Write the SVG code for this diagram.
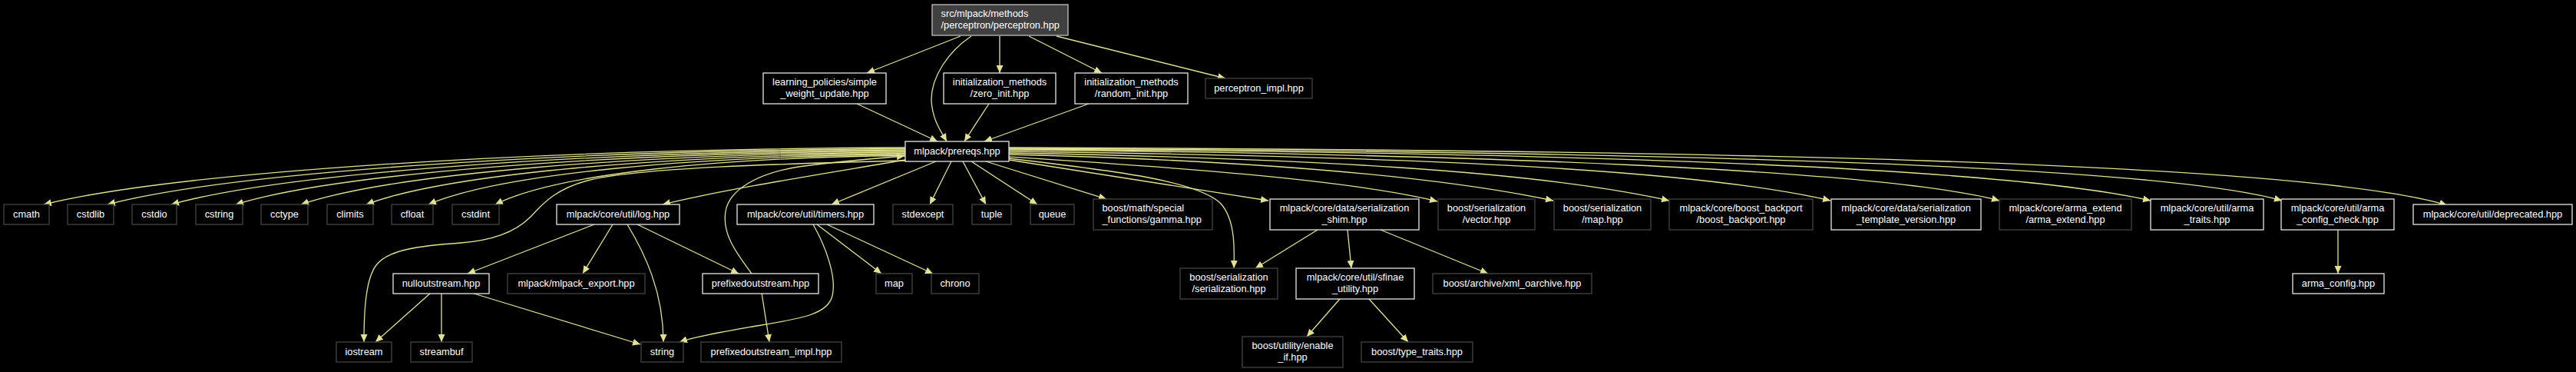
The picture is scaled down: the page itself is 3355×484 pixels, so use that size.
<svg xmlns="http://www.w3.org/2000/svg" width="3355" height="484" viewBox="0 0 3355 484">
<style>
.bg{fill:#000}
.d rect{fill:#000;stroke:#e6e6e6;stroke-width:1.3}
.u rect{fill:#000;stroke:#444;stroke-width:1.3}
.r rect{fill:#404040;stroke:#bfbfbf;stroke-width:1.3}
text{font-family:"Liberation Sans",Arial,sans-serif;font-size:12.8px;fill:#fff}
.m{text-anchor:middle}
#edges path{fill:none;stroke:#e2e28e;stroke-width:1.3;marker-end:url(#ah)}
</style>
<defs>
<marker id="ah" markerWidth="11" markerHeight="9" refX="10" refY="4.5" orient="auto" markerUnits="userSpaceOnUse">
<path d="M0,0 L10,4.5 L0,9 z" fill="#e2e28e"/>
</marker>
</defs>
<rect class="bg" x="0" y="0" width="3355" height="484"/>
<g id="edges">
<path d="M1251,47 L1129,95"/>
<path d="M1265,47 C1235,67 1213,100 1213,130 C1214,155 1225,170 1233,184"/>
<path d="M1302,47 L1302,95"/>
<path d="M1340,47 L1435,95"/>
<path d="M1376,47 L1596,102"/>
<path d="M1116,135 L1221,184"/>
<path d="M1288,135 L1256,184"/>
<path d="M1418,135 L1282,184"/>
<path d="M1179,192 C674,194 225,225 57,266"/>
<path d="M1179,193.5 C715,195.5 297,225 140,266"/>
<path d="M1179,195 C754,197 367,225.5 223,266"/>
<path d="M1179,196.5 C792,198.5 438,225.5 307,266"/>
<path d="M1179,198 C830,200 510,226 392,266"/>
<path d="M1179,199.5 C868,201.5 583,226 477,266"/>
<path d="M1179,201 C904,203 651,226 558,266"/>
<path d="M1179,202.5 C939,204.5 725,226 645,266"/>
<path d="M1179,208 C1080,225 950,245 863,266"/>
<path d="M1179,209 C1020,213 830,218 765,235 C720,247 705,268 690,283 C670,303 640,313 600,316 C545,320 505,325 490,345 C477,362 474,400 474,445"/>
<path d="M1219,210 L1083,266"/>
<path d="M1239,210 L1211,266"/>
<path d="M1254,210 L1284,266"/>
<path d="M1265,210 L1351,266"/>
<path d="M1284,210 L1441,259"/>
<path d="M1314,208 L1652,261"/>
<path d="M1314,206 C1450,222 1560,235 1590,265 C1608,285 1608,320 1607,349"/>
<path d="M1314,204 C1500,216 1750,232 1872,262"/>
<path d="M1314,201 C1600,208 1850,225 2023,261"/>
<path d="M1314,199 C1700,206 2000,222 2174,261"/>
<path d="M1314,197 C1800,203 2200,218 2384,261"/>
<path d="M1314,195 C1900,200 2450,220 2604,261"/>
<path d="M1314,194 C2000,198 2600,215 2801,261"/>
<path d="M1314,193 C2100,197 2800,212 2972,261"/>
<path d="M1314,192 C2200,195 3000,210 3187,267"/>
<path d="M774,292 L609,356"/>
<path d="M798,292 L759,356"/>
<path d="M817,292 C840,330 864,380 864,445"/>
<path d="M830,292 L962,356"/>
<path d="M1064,292 L1148,356"/>
<path d="M1077,292 L1215,356"/>
<path d="M1059,292 C1075,320 1090,360 1084,385 C1078,410 1040,415 980,425 C940,432 905,438 885,445"/>
<path d="M561,381 L489,445"/>
<path d="M575,381 L575,445"/>
<path d="M614,381 L834,448"/>
<path d="M992,381 L1002,445"/>
<path d="M979,356 C960,330 940,305 945,275 C950,245 990,225 1040,217 C1090,210 1140,206 1178,203"/>
<path d="M1716,299 L1635,349"/>
<path d="M1755,299 L1760,349"/>
<path d="M1798,299 L1938,356"/>
<path d="M1745,389 L1702,438"/>
<path d="M1783,389 L1834,445"/>
<path d="M3045,299 L3045,356"/>
</g>
<g id="n0" class="r"><rect x="1214" y="6" width="177" height="40"/><text x="1225.5" y="22">src/mlpack/methods</text><text x="1225.5" y="37">/perceptron/perceptron.hpp</text></g>
<g id="n1" class="d"><rect x="994" y="95" width="160" height="40"/><text class="m" x="1074" y="111">learning_policies/simple</text><text class="m" x="1074" y="126">_weight_update.hpp</text></g>
<g id="n2" class="d"><rect x="1229" y="95" width="146" height="40"/><text class="m" x="1302" y="111">initialization_methods</text><text class="m" x="1302" y="126">/zero_init.hpp</text></g>
<g id="n3" class="d"><rect x="1400" y="95" width="147" height="40"/><text class="m" x="1473.5" y="111">initialization_methods</text><text class="m" x="1473.5" y="126">/random_init.hpp</text></g>
<g id="n4" class="u"><rect x="1570" y="102" width="139" height="26"/><text class="m" x="1639.5" y="119">perceptron_impl.hpp</text></g>
<g id="n5" class="d"><rect x="1179" y="184" width="135" height="26"/><text class="m" x="1246.5" y="201">mlpack/prereqs.hpp</text></g>
<g id="n6" class="u"><rect x="5" y="266" width="59" height="26"/><text class="m" x="34.5" y="283">cmath</text></g>
<g id="n7" class="u"><rect x="88" y="266" width="60" height="26"/><text class="m" x="118" y="283">cstdlib</text></g>
<g id="n8" class="u"><rect x="172" y="266" width="58" height="26"/><text class="m" x="201" y="283">cstdio</text></g>
<g id="n9" class="u"><rect x="255" y="266" width="61" height="26"/><text class="m" x="285.5" y="283">cstring</text></g>
<g id="n10" class="u"><rect x="340" y="266" width="61" height="26"/><text class="m" x="370.5" y="283">cctype</text></g>
<g id="n11" class="u"><rect x="426" y="266" width="60" height="26"/><text class="m" x="456" y="283">climits</text></g>
<g id="n12" class="u"><rect x="510" y="266" width="54" height="26"/><text class="m" x="537" y="283">cfloat</text></g>
<g id="n13" class="u"><rect x="589" y="266" width="61" height="26"/><text class="m" x="619.5" y="283">cstdint</text></g>
<g id="n14" class="d"><rect x="725" y="266" width="160" height="26"/><text class="m" x="805" y="283">mlpack/core/util/log.hpp</text></g>
<g id="n15" class="d"><rect x="960" y="266" width="178" height="26"/><text class="m" x="1049" y="283">mlpack/core/util/timers.hpp</text></g>
<g id="n16" class="u"><rect x="1163" y="266" width="78" height="26"/><text class="m" x="1202" y="283">stdexcept</text></g>
<g id="n17" class="u"><rect x="1266" y="266" width="51" height="26"/><text class="m" x="1291.5" y="283">tuple</text></g>
<g id="n18" class="u"><rect x="1342" y="266" width="57" height="26"/><text class="m" x="1370.5" y="283">queue</text></g>
<g id="n19" class="u"><rect x="1424" y="259" width="155" height="40"/><text x="1435.5" y="275">boost/math/special</text><text x="1435.5" y="290">_functions/gamma.hpp</text></g>
<g id="n20" class="d"><rect x="1654" y="259" width="194" height="40"/><text class="m" x="1751" y="275">mlpack/core/data/serialization</text><text class="m" x="1751" y="290">_shim.hpp</text></g>
<g id="n21" class="u"><rect x="1873" y="259" width="126" height="40"/><text class="m" x="1936" y="275">boost/serialization</text><text class="m" x="1936" y="290">/vector.hpp</text></g>
<g id="n22" class="u"><rect x="2024" y="259" width="126" height="40"/><text class="m" x="2087" y="275">boost/serialization</text><text class="m" x="2087" y="290">/map.hpp</text></g>
<g id="n23" class="u"><rect x="2174" y="259" width="187" height="40"/><text class="m" x="2267.5" y="275">mlpack/core/boost_backport</text><text class="m" x="2267.5" y="290">/boost_backport.hpp</text></g>
<g id="n24" class="d"><rect x="2385" y="259" width="195" height="40"/><text class="m" x="2482.5" y="275">mlpack/core/data/serialization</text><text class="m" x="2482.5" y="290">_template_version.hpp</text></g>
<g id="n25" class="u"><rect x="2604" y="259" width="172" height="40"/><text class="m" x="2690" y="275">mlpack/core/arma_extend</text><text class="m" x="2690" y="290">/arma_extend.hpp</text></g>
<g id="n26" class="d"><rect x="2801" y="259" width="147" height="40"/><text class="m" x="2874.5" y="275">mlpack/core/util/arma</text><text class="m" x="2874.5" y="290">_traits.hpp</text></g>
<g id="n27" class="d"><rect x="2971" y="259" width="147" height="40"/><text class="m" x="3044.5" y="275">mlpack/core/util/arma</text><text class="m" x="3044.5" y="290">_config_check.hpp</text></g>
<g id="n28" class="d"><rect x="3143" y="266" width="207" height="26"/><text class="m" x="3246.5" y="283">mlpack/core/util/deprecated.hpp</text></g>
<g id="n29" class="d"><rect x="512" y="356" width="125" height="26"/><text class="m" x="574.5" y="373">nulloutstream.hpp</text></g>
<g id="n30" class="u"><rect x="661" y="356" width="179" height="26"/><text class="m" x="750.5" y="373">mlpack/mlpack_export.hpp</text></g>
<g id="n31" class="d"><rect x="915" y="356" width="151" height="26"/><text class="m" x="990.5" y="373">prefixedoutstream.hpp</text></g>
<g id="n32" class="u"><rect x="1141" y="356" width="47" height="26"/><text class="m" x="1164.5" y="373">map</text></g>
<g id="n33" class="u"><rect x="1213" y="356" width="62" height="26"/><text class="m" x="1244" y="373">chrono</text></g>
<g id="n34" class="u"><rect x="1537" y="349" width="127" height="40"/><text class="m" x="1600.5" y="365">boost/serialization</text><text class="m" x="1600.5" y="380">/serialization.hpp</text></g>
<g id="n35" class="d"><rect x="1688" y="349" width="154" height="40"/><text class="m" x="1765" y="365">mlpack/core/util/sfinae</text><text class="m" x="1765" y="380">_utility.hpp</text></g>
<g id="n36" class="u"><rect x="1866" y="356" width="207" height="26"/><text class="m" x="1969.5" y="373">boost/archive/xml_oarchive.hpp</text></g>
<g id="n37" class="d"><rect x="2986" y="356" width="119" height="26"/><text class="m" x="3045.5" y="373">arma_config.hpp</text></g>
<g id="n38" class="u"><rect x="438" y="445" width="72" height="26"/><text class="m" x="474" y="462">iostream</text></g>
<g id="n39" class="u"><rect x="535" y="445" width="80" height="26"/><text class="m" x="575" y="462">streambuf</text></g>
<g id="n40" class="u"><rect x="835" y="445" width="55" height="26"/><text class="m" x="862.5" y="462">string</text></g>
<g id="n41" class="u"><rect x="913" y="445" width="183" height="26"/><text class="m" x="1004.5" y="462">prefixedoutstream_impl.hpp</text></g>
<g id="n42" class="u"><rect x="1618" y="438" width="131" height="40"/><text class="m" x="1683.5" y="454">boost/utility/enable</text><text class="m" x="1683.5" y="469">_if.hpp</text></g>
<g id="n43" class="u"><rect x="1773" y="445" width="145" height="26"/><text class="m" x="1845.5" y="462">boost/type_traits.hpp</text></g>
</svg>
